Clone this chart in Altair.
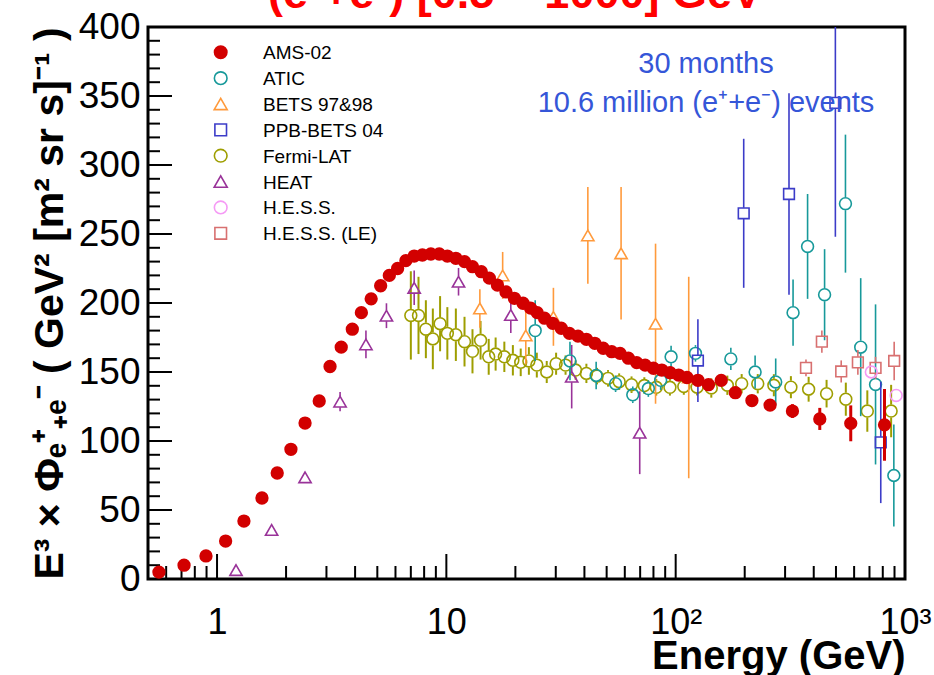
import altair as alt
import pandas as pd

# ---------------- data: E^3 x flux of (e+ + e-) ----------------
ams_E = [0.558, 0.718, 0.895, 1.09, 1.31, 1.57, 1.83, 2.10, 2.42, 2.79, 3.11, 3.48, 3.89, 4.26,
         4.70, 5.17, 5.64, 6.13, 6.66, 7.24, 7.86, 8.56, 9.31, 10.1, 11.0, 12.0, 13.0, 14.2,
         15.4, 16.7, 18.2, 19.8, 21.6, 23.3, 24.9, 26.8, 29.1, 31.7, 34.4, 37.5, 40.8, 44.4,
         48.3, 52.6, 57.2, 62.2, 67.6, 73.6, 80.0, 87.0, 94.6, 103, 112, 125, 139, 158, 182,
         215, 258, 323, 425, 580, 814]
ams_v = [5, 10, 16.7, 27.5, 42, 58.7, 76.8, 94, 113, 129, 154, 168, 181, 193,
         203, 212.5, 220, 225, 230.7, 234, 234.8, 235.5, 235.5, 234, 232.4, 230, 226.3, 222.7,
         218, 213, 208, 203.4, 199.8, 196.3, 193, 189, 185.3, 181.7, 178, 176, 173.7, 170.8,
         167.2, 164.7, 163.5, 160, 156.8, 155, 152.7, 151.4, 149.5, 147.8, 146, 144, 140.8, 143.9, 135,
         129.3, 126, 121.7, 116, 112.8, 111.7]
ams_err = [0] * 57 + [2, 3, 5, 8, 13, 26]

atic_E = [24.4, 34.6, 45.0, 54.7, 65.0, 76.0, 86.0, 95.5, 122, 174, 222, 273, 325, 376, 446, 550, 641, 744, 894]
atic_v = [180, 158, 147.5, 141.5, 133.5, 138, 144, 161, 163.5, 159.5, 150, 142.8, 193, 241, 206, 272, 168, 141, 75]
atic_err = [22, 14, 10, 6, 6, 6, 7, 8, 6, 8, 12, 17, 24, 38, 33, 50, 50, 58, 37]

bets_E = [14.0, 17.6, 22.2, 29.3, 41.4, 57.8, 81.7, 114]
bets_v = [196, 220, 176.5, 190, 249, 236, 185, 146]
bets_err = [14, 17, 21, 21, 35, 48, 58, 73]

ppb_E = [125, 198, 312, 497, 784]
ppb_v = [158.3, 265, 279, 345, 99]
ppb_err = [30, 54, 73, 97, 44]

fermi_E = [7.0, 7.56, 8.14, 8.73, 9.39, 10.1, 11.0, 12.0, 13.0, 14.1, 15.3, 16.4, 17.9, 19.5,
           21.1, 22.9, 24.8, 27.4, 30.1, 33.1, 36.6, 40.8, 45.4, 50.7, 56.7, 64.2, 73.0, 82.3,
           94.4, 108.5, 124, 143, 168, 194, 228, 268, 318, 380, 455, 552, 685, 870]
fermi_v = [191, 191, 181, 174, 185, 178, 177, 172, 165, 173, 161, 163, 161, 158.5,
           157, 158, 155, 150, 156, 155, 151.4, 149, 147, 145.4, 143, 140.8, 140.2, 138.9,
           138.9, 139.5, 139, 138.4, 140.4, 141.5, 141.5, 140.4, 139, 137.5, 134.3, 130.3, 121.7, 121.7]
fermi_err = [32, 28, 21, 22, 20, 19, 19, 18, 16, 14, 13, 12, 11, 11,
             10, 10, 9, 8, 8, 7, 7, 7, 6, 6, 6, 6, 6, 6,
             6, 6, 6, 7, 7, 7, 7, 8, 8, 9, 10, 12, 15, 19]

heat_E = [1.21, 1.73, 2.42, 3.44, 4.46, 5.48, 7.24, 11.3, 19.1, 35.2, 69.7]
heat_v = [6.5, 35.5, 73.7, 128.5, 170, 190.8, 211, 215.4, 191.3, 146.6, 106]
heat_err = [0.5, 0.5, 1, 7, 10, 9, 12.5, 10, 13, 23, 30]

hess_E = [713, 915]
hess_v = [150, 133]
hess_err = [0, 0]

hessle_E = [370, 434, 527, 623, 744, 897]
hessle_v = [153, 172, 150.4, 157, 153, 158]
hessle_err = [6, 8, 8, 9, 8, 14]

# axis ticks
x_label_values = [1, 10, 100, 1000]
x_major = [1, 10, 100]
x_minor = [0.6, 0.7, 0.8, 0.9, 2, 3, 4, 5, 6, 7, 8, 9, 20, 30, 40, 50, 60, 70, 80, 90,
           200, 300, 400, 500, 600, 700, 800, 900]
y_major = [0, 50, 100, 150, 200, 250, 300, 350, 400]
y_minor = [10, 20, 30, 40, 60, 70, 80, 90, 110, 120, 130, 140, 160, 170, 180, 190,
           210, 220, 230, 240, 260, 270, 280, 290, 310, 320, 330, 340, 360, 370, 380, 390]

# ---------------- styling ----------------
W, H = 757, 552
FONT = "Liberation Sans"
x_scale = alt.Scale(type="log", domain=[0.5, 1000], nice=False)
y_scale = alt.Scale(domain=[0, 400], nice=False, zero=False)
PX_PER_UNIT = H / 400.0

x_axis = alt.Axis(
    values=x_label_values,
    labelExpr="datum.value == 100 ? '10²' : datum.value == 1000 ? '10³' : datum.value == 10 ? '10' : '1'",
    labelFont=FONT, labelFontSize=36, labelColor="black", labelPadding=26,
    labelBaseline="top", labelFlush=False, labelOverlap=False, labelBound=False,
    ticks=False, domain=False, grid=False,
    title="Energy (GeV)", titleFont=FONT, titleFontSize=40, titleFontWeight="bold",
    titleColor="black", titleAnchor="end", titleAlign="right", titleBaseline="alphabetic",
    titleX=W, titleY=89,
)
y_axis = alt.Axis(
    values=y_major,
    labelFont=FONT, labelFontSize=37, labelColor="black", labelPadding=8,
    labelFlush=False, labelOverlap=False, labelBound=False,
    ticks=False, domain=False, grid=False,
    title="E³ × Φₑ⁺₊ₑ⁻ ( GeV² [m² sr s]⁻¹ )",
    titleFont=FONT, titleFontSize=41, titleFontWeight="bold", titleColor="black",
    titleAngle=270, titleAlign="center", titleBaseline="alphabetic",
    titleX=-86, titleY=276,
)


def X(field):
    return alt.X(field, scale=x_scale, axis=x_axis)


def Y(field):
    return alt.Y(field, scale=y_scale, axis=y_axis)


layers = []

# ticks pointing into the frame
layers.append(
    alt.Chart(pd.DataFrame({"E": x_major})).mark_rule(color="black", strokeWidth=2).encode(
        x=X("E:Q"), y=alt.value(H), y2=alt.value(H - 25))
)
layers.append(
    alt.Chart(pd.DataFrame({"E": x_minor})).mark_rule(color="black", strokeWidth=2).encode(
        x=X("E:Q"), y=alt.value(H), y2=alt.value(H - 13))
)
layers.append(
    alt.Chart(pd.DataFrame({"y": y_major})).mark_rule(color="black", strokeWidth=2).encode(
        y=Y("y:Q"), x=alt.value(0), x2=alt.value(24))
)
layers.append(
    alt.Chart(pd.DataFrame({"y": y_minor})).mark_rule(color="black", strokeWidth=2).encode(
        y=Y("y:Q"), x=alt.value(0), x2=alt.value(12))
)


def series(E, v, err, color, shape, filled, size, gap, bar_w):
    df = pd.DataFrame({"E": E, "y": v, "err": err})
    base = alt.Chart(df).transform_calculate(lo="datum.y - datum.err", hi="datum.y + datum.err")
    out = []
    if filled:
        out.append(
            base.transform_filter("datum.err > 0")
            .mark_rule(color=color, strokeWidth=bar_w, clip=True)
            .encode(x=X("E:Q"), y=Y("lo:Q"), y2="hi:Q")
        )
        out.append(
            base.mark_point(shape=shape, filled=True, size=size, color=color, opacity=1)
            .encode(x=X("E:Q"), y=Y("y:Q"))
        )
    else:
        min_err = (gap + 1.0) / PX_PER_UNIT
        bars = base.transform_filter(f"datum.err > {min_err:.2f}")
        # bar segments stop at the edge of the hollow marker
        out.append(
            bars.mark_rule(color=color, strokeWidth=bar_w, clip=True, y2Offset=gap)
            .encode(x=X("E:Q"), y=Y("lo:Q"), y2="y:Q")
        )
        out.append(
            bars.mark_rule(color=color, strokeWidth=bar_w, clip=True, yOffset=-gap)
            .encode(x=X("E:Q"), y=Y("y:Q"), y2="hi:Q")
        )
        out.append(
            base.mark_point(shape=shape, filled=False, size=size, color=color, opacity=1,
                            strokeWidth=1.6)
            .encode(x=X("E:Q"), y=Y("y:Q"))
        )
    return out


RED = "#d20000"
TEAL = "#17999a"
ORANGE = "#ff9a3c"
BLUE = "#3c3cc8"
OLIVE = "#9e9e00"
PURPLE = "#993399"
PINK = "#f59af5"
ROSE = "#d87070"

series_defs = [
    ("AMS-02", RED, "circle", True, 177),
    ("ATIC", TEAL, "circle", False, 140),
    ("BETS 97&98", ORANGE, "triangle-up", False, 150),
    ("PPB-BETS 04", BLUE, "square", False, 115),
    ("Fermi-LAT", OLIVE, "circle", False, 140),
    ("HEAT", PURPLE, "triangle-up", False, 150),
    ("H.E.S.S.", PINK, "circle", False, 140),
    ("H.E.S.S. (LE)", ROSE, "square", False, 115),
]

layers += series(fermi_E, fermi_v, fermi_err, OLIVE, "circle", False, 140, 6.5, 2)
layers += series(heat_E, heat_v, heat_err, PURPLE, "triangle-up", False, 150, 5.5, 1.6)
layers += series(bets_E, bets_v, bets_err, ORANGE, "triangle-up", False, 150, 5.5, 1.6)
layers += series(atic_E, atic_v, atic_err, TEAL, "circle", False, 140, 6.5, 1.6)
layers += series(hessle_E, hessle_v, hessle_err, ROSE, "square", False, 115, 5.5, 1.6)
layers += series(hess_E, hess_v, hess_err, PINK, "circle", False, 140, 6.5, 1.6)
layers += series(ppb_E, ppb_v, ppb_err, BLUE, "square", False, 115, 5.5, 1.6)
layers += series(ams_E, ams_v, ams_err, RED, "circle", True, 177, 0, 3)

# ---------------- legend ----------------
LEG_X, TXT_X, ROW0, ROW_H = 72.7, 115, 25.3, 25.86
for i, (name, color, shape, filled, size) in enumerate(series_defs):
    row = pd.DataFrame({"name": [name]})
    yy = ROW0 + ROW_H * i
    if filled:
        mk = alt.Chart(row).mark_point(shape=shape, filled=True, size=size + 20, color=color, opacity=1)
    else:
        mk = alt.Chart(row).mark_point(shape=shape, filled=False, size=size + 20, color=color,
                                       opacity=1, strokeWidth=1.6)
    layers.append(mk.encode(x=alt.value(LEG_X), y=alt.value(yy)))
    layers.append(
        alt.Chart(row).mark_text(font=FONT, fontSize=19, color="black", align="left",
                                 baseline="middle")
        .encode(x=alt.value(TXT_X), y=alt.value(yy + 1), text="name:N")
    )

# ---------------- annotations ----------------
note = pd.DataFrame({"line": ["30 months", "10.6 million (e⁺+e⁻) events"], "row": [0, 1]})
layers.append(
    alt.Chart(note).transform_calculate(py="46 + datum.row * 39")
    .mark_text(font=FONT, fontSize=29, color="#3556d8", align="center", baseline="alphabetic")
    .encode(x=alt.value(706 - 148), y=alt.Y("py:Q", scale=None, axis=None), text="line:N")
)
head = pd.DataFrame({"t": ["(e⁺+e⁻) [0.5 – 1000] GeV"]})
layers.append(
    alt.Chart(head).mark_text(font=FONT, fontSize=45, fontWeight="bold", color="#ff0000",
                              align="center", baseline="alphabetic")
    .encode(x=alt.value(515 - 148), y=alt.value(8 - 27), text="t:N")
)

chart = (
    alt.layer(*layers)
    .properties(
        width=W, height=H,
        padding={"left": 148, "top": 27, "right": 29, "bottom": 96},
        autosize=alt.AutoSizeParams(type="none"),
        background="white",
    )
    .configure_view(stroke="black", strokeWidth=3)
)

chart.save("out.html", embed_options={"renderer": "svg", "actions": False})
